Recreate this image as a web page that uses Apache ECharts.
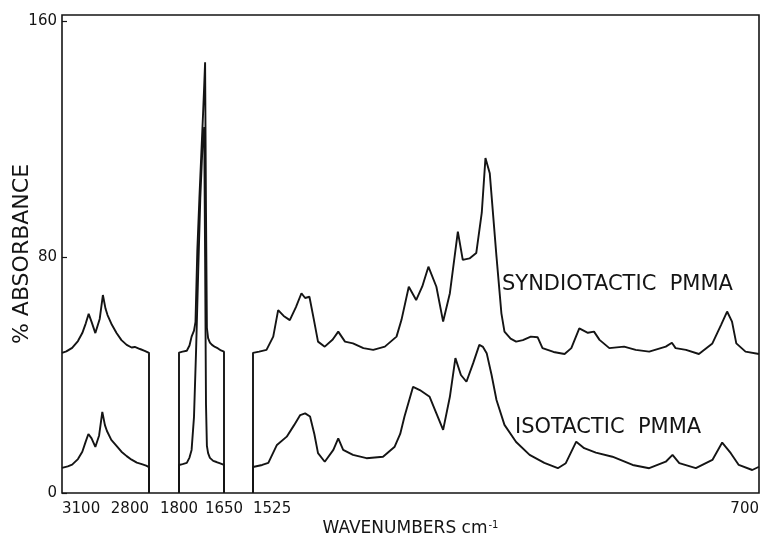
<!DOCTYPE html>
<html>
<head>
<meta charset="utf-8">
<script src="https://cdn.jsdelivr.net/npm/echarts@6/dist/echarts.min.js"></script>
<style>html,body{margin:0;padding:0;background:#fff}#c{width:761px;height:543px}</style>
</head>
<body>
<div id="c"></div>
<script>
// ---- data (wavenumber cm-1 / % absorbance) ----
const yTicks = [0, 80, 160];
const seg1Ticks = [3100, 2800];
const seg2Ticks = [1800, 1650];
const seg3Ticks = [1525, 700];

const synWn1 = [3100, 3085, 3065, 3045, 3030, 3018, 3008, 2998, 2985, 2970, 2959, 2950, 2943, 2928, 2912, 2895, 2877, 2860, 2849, 2831, 2815, 2800, 2800];
const synAbs1 = [47.5, 48.0, 49.2, 51.5, 54.2, 57.5, 60.7, 58.0, 54.2, 59.0, 67.1, 62.5, 60.3, 57.0, 54.2, 51.8, 50.2, 49.3, 49.5, 48.8, 48.2, 47.5, 0];
const isoWn1 = [3100, 3080, 3065, 3045, 3030, 3018, 3009, 2998, 2985, 2972, 2961, 2952, 2945, 2930, 2912, 2895, 2877, 2860, 2842, 2825, 2810, 2800, 2800];
const isoAbs1 = [8.5, 9.0, 9.6, 11.5, 14.0, 17.5, 20.0, 18.5, 15.6, 19.5, 27.5, 23.0, 21.0, 18.0, 16.0, 14.0, 12.5, 11.3, 10.3, 9.8, 9.3, 8.8, 0];

const synWn2 = [1800, 1800, 1788, 1774, 1765, 1758, 1750, 1745, 1739, 1732, 1726, 1720, 1716, 1713, 1710, 1707, 1703, 1697, 1690, 1680, 1670, 1660, 1650, 1650];
const synAbs2 = [0, 47.6, 47.9, 48.2, 50.0, 53.0, 55.0, 58.0, 82.0, 100, 114, 128, 138, 146, 95, 56, 52.5, 51.0, 50.2, 49.5, 49.0, 48.3, 47.9, 0];
const isoWn2 = [1800, 1800, 1788, 1774, 1765, 1758, 1750, 1743, 1736, 1729, 1722, 1716, 1713, 1710, 1707, 1703, 1697, 1686, 1675, 1665, 1650, 1650];
const isoAbs2 = [0, 9.5, 9.8, 10.2, 12.0, 14.6, 25.8, 48.5, 75, 100, 117, 124, 80, 30, 16, 13.5, 11.9, 10.9, 10.5, 10.1, 9.5, 0];

const synWn3 = [1525, 1525, 1515, 1503, 1492, 1484, 1475, 1465, 1455, 1446, 1440, 1433, 1426, 1419, 1408, 1395, 1386, 1375, 1362, 1345, 1329, 1310, 1291, 1283, 1271, 1259, 1249, 1239, 1226, 1215, 1204, 1191, 1183, 1172, 1161, 1152, 1146, 1139, 1128, 1120, 1115, 1105, 1096, 1085, 1072, 1061, 1053, 1035, 1017, 1006, 993, 979, 969, 960, 944, 920, 901, 879, 852, 842, 836, 819, 798, 776, 762, 752, 744, 737, 722, 700];
const synAbs3 = [0, 47.5, 47.9, 48.5, 53.0, 62.0, 60.0, 58.6, 63.0, 67.7, 66.1, 66.5, 59.0, 51.3, 49.6, 52.0, 54.7, 51.3, 50.7, 49.1, 48.5, 49.6, 53.0, 58.6, 69.9, 65.4, 70.0, 76.7, 69.9, 58.1, 67.7, 88.6, 79.0, 79.5, 81.3, 95.0, 113.5, 108.4, 80.1, 60.9, 54.7, 52.3, 51.3, 51.8, 53.0, 52.8, 49.1, 47.8, 47.1, 49.1, 55.8, 54.3, 54.7, 51.9, 49.1, 49.6, 48.5, 47.9, 49.6, 50.9, 49.1, 48.5, 47.1, 50.7, 56.9, 61.5, 58.1, 50.7, 47.9, 47.1];
const isoWn3 = [1525, 1525, 1510, 1500, 1486, 1470, 1458, 1448, 1440, 1432, 1425, 1419, 1408, 1394, 1386, 1378, 1362, 1340, 1313, 1294, 1285, 1278, 1264, 1253, 1237, 1226, 1215, 1204, 1195, 1186, 1177, 1166, 1156, 1150, 1144, 1136, 1128, 1115, 1096, 1074, 1050, 1028, 1015, 998, 985, 966, 939, 906, 879, 852, 841, 830, 803, 776, 760, 746, 733, 711, 700];
const isoAbs3 = [0, 8.8, 9.5, 10.2, 16.3, 19.1, 23.0, 26.4, 27.0, 25.9, 20.0, 13.5, 10.6, 14.6, 18.5, 14.6, 12.9, 11.8, 12.3, 15.7, 20.0, 25.9, 36.0, 34.9, 32.6, 27.0, 21.4, 32.6, 45.7, 40.0, 37.7, 44.0, 50.2, 49.5, 47.4, 40.0, 31.5, 23.1, 17.3, 12.9, 10.2, 8.4, 10.1, 17.4, 15.2, 13.7, 12.3, 9.5, 8.4, 10.6, 12.9, 10.1, 8.4, 11.2, 17.1, 13.5, 9.5, 7.8, 8.9];

const synLabel = 'SYNDIOTACTIC  PMMA';
const isoLabel = 'ISOTACTIC  PMMA';

// ---- chart ----
const INK = '#141414';
const FONT = 'DejaVu Sans';
const zip = (a, b) => a.map((v, i) => [v, b[i]]);
const plain = v => String(v);

const gTop = 15, gBottom = 50;
const gridBase = { top: gTop, bottom: gBottom, outerBoundsMode: 'none', containLabel: false };
const grids = [
  Object.assign({ left: 62, right: 2, show: true, borderColor: INK, borderWidth: 1.6, backgroundColor: 'transparent' }, gridBase),
  Object.assign({ left: 62, right: 612 }, gridBase),
  Object.assign({ left: 179, right: 537 }, gridBase),
  Object.assign({ left: 253, right: 2 }, gridBase)
];

function segAxis(idx, lo, hi, ticks, alignMin, alignMax) {
  return {
    type: 'value', gridIndex: idx, min: lo, max: hi, inverse: true,
    axisLine: { show: false }, axisTick: { show: false }, splitLine: { show: false },
    axisLabel: {
      customValues: ticks, formatter: plain, color: INK, fontFamily: FONT, fontSize: 15, margin: 9,
      alignMinLabel: alignMin, alignMaxLabel: alignMax
    }
  };
}

const hiddenY = i => ({ type: 'value', gridIndex: i, min: 0, max: 162, show: false });

const lineStyle = { color: INK, width: 1.9 };
function ser(axisIdx, data, name) {
  return {
    type: 'line', name: name, xAxisIndex: axisIdx, yAxisIndex: axisIdx, data: data,
    showSymbol: false, symbol: 'none', lineStyle: lineStyle, smooth: false, z: 3
  };
}

const option = {
  animation: false,
  backgroundColor: '#fff',
  grid: grids,
  xAxis: [
    {
      type: 'value', gridIndex: 0, min: 0, max: 1,
      axisLine: { show: false }, axisTick: { show: false }, axisLabel: { show: false }, splitLine: { show: false },
      name: '{t|WAVENUMBERS cm}{s|-1}', nameLocation: 'middle', nameGap: 27, nameMoveOverlap: false,
      nameTextStyle: {
        rich: {
          t: { fontFamily: FONT, fontSize: 17, color: INK },
          s: { fontFamily: FONT, fontSize: 10, color: INK, verticalAlign: 'top', padding: [0, 0, 8, 1] }
        }
      }
    },
    segAxis(1, 2800, 3100, seg1Ticks, 'left', 'right'),
    segAxis(2, 1650, 1800, seg2Ticks, 'center', 'center'),
    segAxis(3, 700, 1525, seg3Ticks, 'left', 'right')
  ],
  yAxis: [
    {
      type: 'value', gridIndex: 0, min: 0, max: 162,
      axisLine: { show: false },
      axisTick: { show: true, inside: true, length: 5, lineStyle: { color: INK, width: 1.2 }, customValues: yTicks },
      axisLabel: { customValues: yTicks, formatter: plain, color: INK, fontFamily: FONT, fontSize: 15, margin: 5 },
      splitLine: { show: false },
      name: '% ABSORBANCE', nameLocation: 'middle', nameGap: 29, nameRotate: 90, nameMoveOverlap: false,
      nameTextStyle: { fontFamily: FONT, fontSize: 22, color: INK }
    },
    hiddenY(1), hiddenY(2), hiddenY(3)
  ],
  series: [
    ser(1, zip(synWn1, synAbs1), 'syn'),
    ser(1, zip(isoWn1, isoAbs1), 'iso'),
    ser(2, zip(synWn2, synAbs2), 'syn'),
    ser(2, zip(isoWn2, isoAbs2), 'iso'),
    ser(3, zip(synWn3, synAbs3), 'syn'),
    ser(3, zip(isoWn3, isoAbs3), 'iso')
  ],
  graphic: [
    { type: 'text', x: 502, y: 285, style: { text: synLabel, fill: INK, font: '21px "DejaVu Sans"', verticalAlign: 'middle' } },
    { type: 'text', x: 515, y: 428, style: { text: isoLabel, fill: INK, font: '21px "DejaVu Sans"', verticalAlign: 'middle' } }
  ]
};

const chart = echarts.init(document.getElementById('c'), null, { renderer: 'canvas' });
chart.setOption(option);
</script>
</body>
</html>
